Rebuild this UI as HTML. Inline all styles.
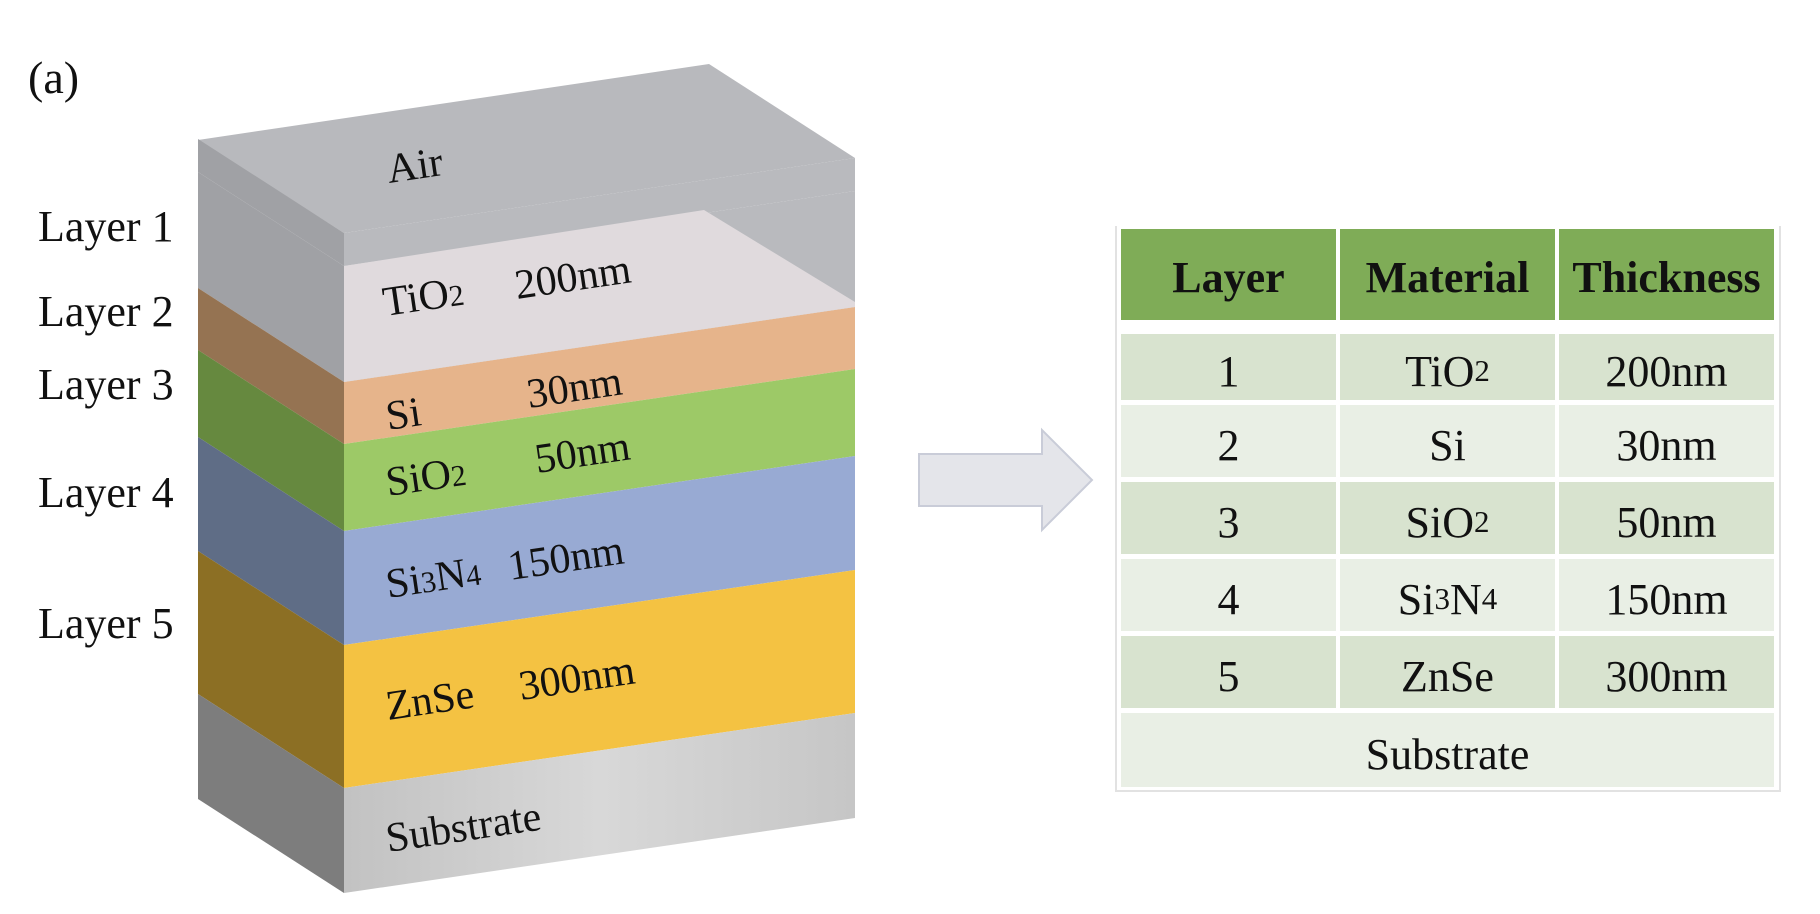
<!DOCTYPE html>
<html><head><meta charset="utf-8"><style>
body{margin:0;width:1820px;height:914px;background:#fff;position:relative;overflow:hidden;font-family:"Liberation Serif",serif;}
.lbl{position:absolute;font-size:44px;line-height:1;color:#111;white-space:nowrap;}
.cell{position:absolute;display:flex;align-items:center;justify-content:center;font-size:44px;color:#111;padding-top:8px;box-sizing:border-box;}
.hd{background:#7fac57;font-weight:bold;font-size:44px;padding-top:6px;}
.d1{background:#d8e3cf;}
.d2{background:#e9efe5;}
</style></head><body>
<div class="lbl" style="left:28px;top:55px;font-size:46px">(a)</div>
<div class="lbl" style="left:38px;top:205px">Layer 1</div>
<div class="lbl" style="left:38px;top:290px">Layer 2</div>
<div class="lbl" style="left:38px;top:363px">Layer 3</div>
<div class="lbl" style="left:38px;top:471px">Layer 4</div>
<div class="lbl" style="left:38px;top:602px">Layer 5</div>
<svg width="1820" height="914" style="position:absolute;left:0;top:0">
<defs><linearGradient id="sub" x1="0" x2="1"><stop offset="0" stop-color="#c2c2c2"/><stop offset="0.5" stop-color="#d8d8d8"/><stop offset="1" stop-color="#c6c6c6"/></linearGradient></defs>
<polygon points="198,140 709,64 855,158 344,233" fill="#b8b9bd"/>
<g id="bands"></g>
<polygon points="344,266 704,210 855,302 855,307 344,382" fill="#e0dadd"/>
<g id="texts" font-family="Liberation Serif, serif" font-size="42" fill="#111"></g>
</svg>
<svg width="1820" height="914" style="position:absolute;left:0;top:0">
<polygon points="919,454 1042,454 1042,430 1092,480 1042,530 1042,506 919,506" fill="#e4e5ea" stroke="#c9ccd8" stroke-width="2"/>
</svg>
<div style="position:absolute;left:1115px;top:226px;width:662px;height:564px;border:2px solid #e2e2e2;border-top:none;"></div>
<div class="cell hd" style="left:1121px;top:229px;width:215px;height:91px">Layer</div>
<div class="cell hd" style="left:1340px;top:229px;width:215px;height:91px">Material</div>
<div class="cell hd" style="left:1559px;top:229px;width:215px;height:91px">Thickness</div>
<div id="rows"></div>
<div class="cell d2" style="left:1121px;top:713px;width:653px;height:74px">Substrate</div>
<script>
const layerIds=["1","2","3","4","5"];
const materials=["TiO<tspan font-size='30'>2</tspan>","Si","SiO<tspan font-size='30'>2</tspan>","Si<tspan font-size='30'>3</tspan>N<tspan font-size='30'>4</tspan>","ZnSe"];
const materialsHtml=["TiO<span style='font-size:31px'>2</span>","Si","SiO<span style='font-size:31px'>2</span>","Si<span style='font-size:31px'>3</span>N<span style='font-size:31px'>4</span>","ZnSe"];
const thickness=["200nm","30nm","50nm","150nm","300nm"];
const bandTops=[233,266,382,444,531,645,788];
const bandBottom=893;
const front=["#b9babe","#b9babe","#e6b48b","#9dc967","#98aad3","#f4c242","url(#sub)"];
const side=["#a0a1a5","#a0a1a5","#957352","#66893f","#5f6d86","#8c6f24","#7d7d7d"];
const NS="http://www.w3.org/2000/svg";
const g=document.getElementById('bands');
const names=["air","tio2","si","sio2","si3n4","znse","substrate"];
for(let i=0;i<bandTops.length;i++){
  const a=bandTops[i],b=i+1<bandTops.length?bandTops[i+1]:bandBottom;
  const f=document.createElementNS(NS,'polygon');
  f.setAttribute('points',`344,${a} 855,${a-75} 855,${b-75} 344,${b}`);
  f.setAttribute('fill',front[i]);
  
  
  g.appendChild(f);
  const s=document.createElementNS(NS,'polygon');
  s.setAttribute('points',`198,${a-94} 344,${a} 344,${b} 198,${b-94}`);
  s.setAttribute('fill',side[i]);
  
  
  g.appendChild(s);
}
const t=document.getElementById('texts');
const labels=[["Air",389,183],[materials[0],385,316],[thickness[0],517,299],[materials[1],388,430],[thickness[1],529,408],[materials[2],388,496],[thickness[2],537,473],[materials[3],388,598],[thickness[3],510,580],[materials[4],388,720],[thickness[4],521,700],["Substrate",388,852]];
labels.forEach((l,i)=>{
  const e=document.createElementNS(NS,'text');
  e.innerHTML=l[0];
  e.setAttribute('x',l[1]);e.setAttribute('y',l[2]);
  e.setAttribute('transform',`rotate(-8.3 ${l[1]} ${l[2]})`);
  
  
  t.appendChild(e);
});
const rows=document.getElementById('rows');
const rowTops=[334,405,482,559,636];
const rowH=[66,72,72,72,72];
const cols=[[1121,215],[1340,215],[1559,215]];
for(let r=0;r<5;r++){
  const vals=[layerIds[r],materialsHtml[r],thickness[r]];
  for(let c=0;c<3;c++){
    const d=document.createElement('div');
    d.className='cell '+(r%2===0?'d1':'d2');
    d.style.left=cols[c][0]+'px';d.style.width=cols[c][1]+'px';
    d.style.top=rowTops[r]+'px';d.style.height=rowH[r]+'px';
    d.innerHTML=vals[c];
    
    
    rows.appendChild(d);
  }
}
</script>
</body></html>
